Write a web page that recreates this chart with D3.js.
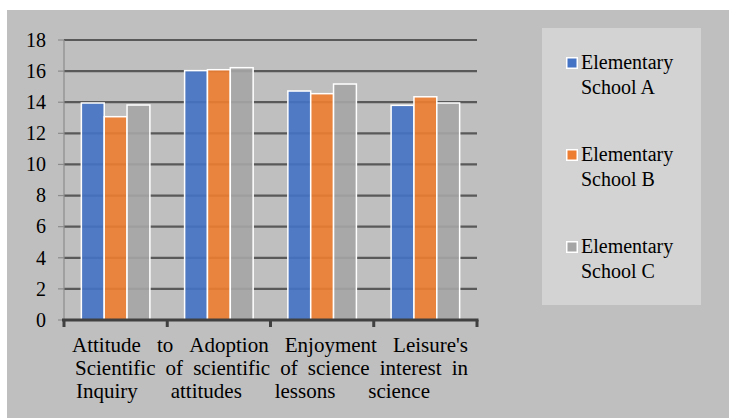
<!DOCTYPE html>
<html>
<head>
<meta charset="utf-8">
<script src="https://cdn.jsdelivr.net/npm/d3@7"></script>
</head>
<body style="margin:0">
<svg id="chart" width="729" height="418"></svg>
<script>
// category labels, one array of wrapped lines per category
var categories = [
  ["Attitude to", "Scientific", "Inquiry"],
  ["Adoption", "of scientific", "attitudes"],
  ["Enjoyment", "of science", "lessons"],
  ["Leisure's", "interest in", "science"]
];
var series = ["Elementary School A", "Elementary School B", "Elementary School C"];
var legendLines = [["Elementary", "School A"], ["Elementary", "School B"], ["Elementary", "School C"]];
var schoolA = [13.95, 16.03, 14.72, 13.8];
var schoolB = [13.07, 16.09, 14.55, 14.35];
var schoolC = [13.82, 16.22, 15.17, 13.95];
var yTicks = [0, 2, 4, 6, 8, 10, 12, 14, 16, 18];
var colors = ["#4472C4", "#ED7D31", "#A5A5A5"];

var FONT = "'Liberation Serif'";
var width = 729, height = 418;
var margin = {top: 40, right: 252, bottom: 98, left: 64};

var svg = d3.select("#chart");

// chart area background
svg.append("rect")
    .attr("x", 7).attr("y", 10)
    .attr("width", width - 7).attr("height", height - 10)
    .attr("fill", "#bfbfbf");

var catIds = categories.map(function(d, i) { return i; });
var x0 = d3.scaleBand().domain(catIds).range([margin.left, width - margin.right]);
var x1 = d3.scaleBand().domain(series).range([0, x0.bandwidth()]).paddingOuter(0.76);
var y = d3.scaleLinear().domain([0, 18]).range([height - margin.bottom, margin.top]);

var values = [schoolA, schoolB, schoolC];

// gridlines
svg.append("g")
    .selectAll("line")
    .data(yTicks.slice(1))
    .enter().append("line")
    .attr("x1", margin.left).attr("x2", width - margin.right)
    .attr("y1", function(d) { return y(d); })
    .attr("y2", function(d) { return y(d); })
    .attr("stroke", "#595959")
    .attr("stroke-width", 2.2);

// y axis
var gy = svg.append("g")
    .attr("transform", "translate(" + margin.left + ",0)");
gy.append("line")
    .attr("y1", y(0)).attr("y2", y(18))
    .attr("stroke", "#8c8c8c").attr("stroke-width", 1.2);
gy.selectAll(".tk")
    .data(yTicks)
    .enter().append("line")
    .attr("x1", -6).attr("x2", 0)
    .attr("y1", function(d) { return y(d); })
    .attr("y2", function(d) { return y(d); })
    .attr("stroke", "#8c8c8c").attr("stroke-width", 1.2);
gy.selectAll("text")
    .data(yTicks)
    .enter().append("text")
    .attr("x", -18)
    .attr("y", function(d) { return y(d); })
    .attr("dy", "0.34em")
    .attr("text-anchor", "end")
    .attr("font-family", FONT)
    .attr("font-size", 20)
    .attr("fill", "#000")
    .text(function(d) { return d; });

// bars
var groups = svg.append("g")
    .selectAll("g")
    .data(catIds)
    .enter().append("g")
    .attr("transform", function(d) { return "translate(" + x0(d) + ",0)"; });

groups.selectAll("rect")
    .data(function(c) { return series.map(function(s, k) { return {s: s, k: k, v: values[k][c]}; }); })
    .enter().append("rect")
    .attr("x", function(d) { return x1(d.s); })
    .attr("width", x1.bandwidth())
    .attr("y", function(d) { return y(d.v); })
    .attr("height", function(d) { return y(0) - y(d.v); })
    .attr("fill", function(d) { return colors[d.k]; })
    .attr("fill-opacity", 0.9)
    .attr("stroke", "#ffffff")
    .attr("stroke-width", 1.5);

// x axis
var gx = svg.append("g")
    .attr("transform", "translate(0," + y(0) + ")");
gx.append("line")
    .attr("x1", x0.range()[0] - 2).attr("x2", x0.range()[1] + 1.5)
    .attr("stroke", "#404040").attr("stroke-width", 3);
var bounds = catIds.map(function(d) { return x0(d); }).concat([x0.range()[1]]);
gx.selectAll(".sep")
    .data(bounds)
    .enter().append("line")
    .attr("x1", function(d) { return d; }).attr("x2", function(d) { return d; })
    .attr("y1", 0).attr("y2", 7)
    .attr("stroke", "#404040")
    .attr("stroke-width", 3);

// category labels: justified lines running across the axis, like the original
var lineSpans = [
  [x0.range()[0] + 8, x0.range()[1] - 9],
  [x0.range()[0] + 11, x0.range()[1] - 9],
  [x0.range()[0] + 12, x0.range()[1] - 47]
];
var baselines = [352, 375, 398];
var labelG = svg.append("g");
lineSpans.forEach(function(span, li) {
  var words = [];
  categories.forEach(function(c) { words = words.concat(c[li].split(" ")); });
  var nodes = words.map(function(w) {
    return labelG.append("text")
      .attr("y", baselines[li])
      .attr("font-family", FONT)
      .attr("font-size", 21)
      .attr("fill", "#000")
      .text(w);
  });
  var widths = nodes.map(function(n) { return n.node().getComputedTextLength(); });
  var gap = (span[1] - span[0] - d3.sum(widths)) / (words.length - 1);
  var cx = span[0];
  nodes.forEach(function(n, i) {
    n.attr("x", cx);
    cx += widths[i] + gap;
  });
});

// legend
var legend = svg.append("g");
legend.append("rect")
    .attr("x", 542).attr("y", 28)
    .attr("width", 159).attr("height", 277)
    .attr("fill", "#d3d3d3");
var items = legend.selectAll("g.item")
    .data(series)
    .enter().append("g")
    .attr("class", "item")
    .attr("transform", function(d, i) { return "translate(566," + (57 + i * 92) + ")"; });
items.append("rect")
    .attr("x", 0.75).attr("y", 0.75)
    .attr("width", 10.5).attr("height", 10.5)
    .attr("fill", function(d, i) { return colors[i]; })
    .attr("stroke", "#ffffff")
    .attr("stroke-width", 1.5);
items.append("text")
    .attr("x", 15)
    .attr("y", 12)
    .attr("font-family", FONT)
    .attr("font-size", 20)
    .attr("fill", "#000")
    .selectAll("tspan")
    .data(function(d, i) { return legendLines[i]; })
    .enter().append("tspan")
    .attr("x", 15)
    .attr("dy", function(d, j) { return j === 0 ? 0 : 25; })
    .text(function(d) { return d; });
</script>
</body>
</html>
